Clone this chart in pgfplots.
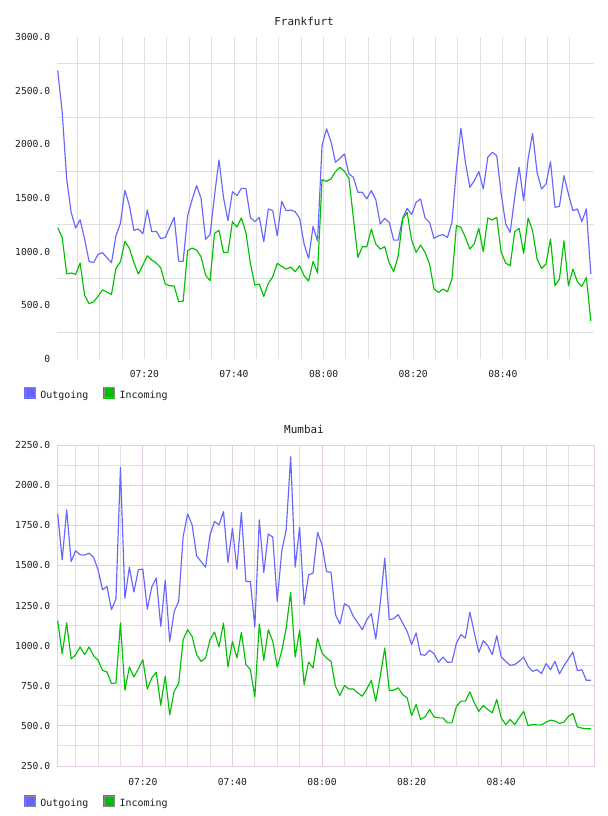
\documentclass[border=0pt]{standalone}
\usepackage{pgfplots}
\pgfplotsset{compat=1.18}
\usepackage{pgfplotstable}
\usepackage{fontspec}
\setmainfont{DejaVu Sans Mono}

\definecolor{outcol}{RGB}{102,102,255}
\definecolor{incol}{RGB}{0,192,0}
\definecolor{gridgray}{RGB}{224,224,224}
\definecolor{gridpink}{RGB}{228,206,228}
\definecolor{labelcol}{RGB}{30,30,30}
\definecolor{legendedge}{RGB}{140,140,140}

% one sample per minute, t = minutes since the first sample
\pgfplotstableread{
t out in
0 2688 1223
1 2299 1133
2 1677 794
3 1366 801
4 1220 788
5 1298 894
6 1118 595
7 910 515
8 897 533
9 975 583
10 990 645
11 944 623
12 897 602
13 1149 844
14 1264 906
15 1572 1096
16 1429 1031
17 1199 900
18 1211 791
19 1167 875
20 1388 962
21 1186 922
22 1189 894
23 1121 850
24 1133 698
25 1227 683
26 1320 680
27 910 533
28 910 539
29 1335 1009
30 1485 1034
31 1615 1015
32 1497 953
33 1115 782
34 1158 729
35 1522 1171
36 1855 1199
37 1506 993
38 1289 993
39 1559 1279
40 1522 1230
41 1590 1314
42 1590 1180
43 1320 894
44 1279 689
45 1320 698
46 1093 583
47 1398 704
48 1382 766
49 1149 891
50 1469 863
51 1382 838
52 1388 856
53 1373 813
54 1310 869
55 1071 776
56 937 726
57 1236 910
58 1099 801
59 1988 1671
60 2144 1656
61 2026 1677
62 1833 1746
63 1870 1786
64 1911 1749
65 1724 1684
66 1693 1314
67 1553 947
68 1553 1046
69 1491 1046
70 1569 1211
71 1485 1071
72 1258 1024
73 1310 1046
74 1273 894
75 1108 813
76 1108 962
77 1314 1304
78 1404 1366
79 1345 1108
80 1460 993
81 1491 1062
82 1314 993
83 1273 885
84 1124 651
85 1149 620
86 1158 651
87 1133 627
88 1273 745
89 1771 1242
90 2150 1227
91 1833 1133
92 1600 1024
93 1662 1077
94 1746 1217
95 1584 999
96 1879 1314
97 1926 1295
98 1895 1320
99 1537 993
100 1258 894
101 1180 869
102 1506 1186
103 1786 1217
104 1475 984
105 1864 1314
106 2103 1195
107 1740 931
108 1584 844
109 1631 885
110 1839 1118
111 1413 683
112 1423 745
113 1708 1102
114 1537 683
115 1382 838
116 1398 720
117 1279 676
118 1398 760
119 791 356
}\frankfurt

\pgfplotstableread{
t out in
0 1821 1155
1 1535 950
2 1846 1141
3 1524 917
4 1591 944
5 1566 992
6 1564 944
7 1576 992
8 1551 938
9 1473 909
10 1348 846
11 1369 836
12 1224 763
13 1290 768
14 2111 1141
15 1294 722
16 1489 867
17 1334 805
18 1473 855
19 1477 913
20 1228 730
21 1365 799
22 1421 834
23 1120 629
24 1406 809
25 1027 569
26 1213 716
27 1276 763
28 1680 1037
29 1821 1099
30 1752 1058
31 1560 944
32 1524 902
33 1489 923
34 1690 1037
35 1773 1085
36 1752 992
37 1835 1141
38 1518 867
39 1732 1027
40 1477 923
41 1831 1083
42 1400 882
43 1400 851
44 1116 681
45 1784 1135
46 1456 909
47 1696 1099
48 1676 1027
49 1276 867
50 1587 965
51 1721 1110
52 2177 1332
53 1489 929
54 1738 1095
55 1255 757
56 1441 898
57 1452 861
58 1705 1047
59 1628 954
60 1462 923
61 1456 902
62 1193 747
63 1135 689
64 1261 751
65 1244 730
66 1182 730
67 1141 705
68 1099 685
69 1162 730
70 1199 784
71 1041 654
72 1265 809
73 1545 985
74 1162 722
75 1168 722
76 1193 737
77 1141 695
78 1089 674
79 1006 564
80 1079 633
81 944 540
82 940 556
83 971 602
84 950 556
85 896 550
86 929 550
87 896 519
88 898 519
89 1016 622
90 1068 654
91 1047 654
92 1209 712
93 1079 643
94 958 591
95 1031 627
96 1000 602
97 944 581
98 1062 664
99 929 550
100 902 508
101 877 540
102 882 508
103 902 550
104 929 591
105 871 502
106 840 508
107 850 506
108 826 506
109 888 523
110 850 536
111 902 530
112 824 515
113 875 523
114 917 560
115 960 577
116 844 494
117 850 486
118 784 482
119 784 482
}\mumbai

\pgfplotsset{
  netchart/.style={
    scale only axis, width=537bp,
    xmin=-0.16, xmax=119.71,
    major tick length=0pt, minor tick length=0pt,
    tick style={draw=none},
    tick label style={font=\fontsize{9.7}{10}\selectfont, text=labelcol, inner sep=0pt},
    yticklabel style={anchor=east, xshift=-6.7bp},
    xticklabel style={anchor=base},
    every axis title/.style={at={(axis description cs:0.46,1)}, anchor=base,
      inner sep=0pt, font=\fontsize{11}{12}\selectfont, text=labelcol},
    legend columns=2,
    legend style={draw=none, fill=none, inner sep=0pt, outer sep=0pt,
      anchor=north west, font=\fontsize{10}{11}\selectfont, text=labelcol,
      nodes={inner sep=0pt},
      /tikz/every odd column/.append style={column sep=4.3bp},
      /tikz/every even column/.append style={column sep=14.8bp}},
    legend image code/.code={
      \fill[##1] (0bp,-3bp) rectangle (11bp,8bp);
      \draw[line width=1bp, draw=legendedge] (0.5bp,-2.5bp) rectangle (10.5bp,7.5bp);
    },
    every axis plot/.append style={line width=1.15bp, line join=round, mark=none},
  }
}

\begin{document}
\begin{tikzpicture}
\path[use as bounding box] (0bp,0bp) rectangle (608bp,-816bp);

\begin{axis}[netchart,
  at={(57bp,-37bp)}, anchor=north west, height=322bp,
  ymin=0, ymax=3000,
  ytick={0,500,1000,1500,2000,2500,3000},
  yticklabels={0,500.0,1000.0,1500.0,2000.0,2500.0,3000.0},
  minor ytick={250,750,1250,1750,2250,2750},
  xtick={19.35,39.35,59.35,79.35,99.35},
  xticklabels={07:20,07:40,08:00,08:20,08:40},
  minor xtick={4.35,9.35,14.35,24.35,29.35,34.35,44.35,49.35,54.35,64.35,69.35,74.35,84.35,89.35,94.35,104.35,109.35,114.35},
  xmajorgrids, xminorgrids, yminorgrids,
  major grid style={draw=gridgray, line width=1bp},
  minor grid style={draw=gridgray, line width=1bp},
  axis line style={draw=none},
  xticklabel style={yshift=-18bp},
  title={Frankfurt}, title style={yshift=12bp},
  legend style={at={(axis description cs:-0.0615,-0.086)}},
]
\addplot[outcol] table[x=t,y=out]{\frankfurt};
\addplot[incol] table[x=t,y=in]{\frankfurt};
\legend{Outgoing,Incoming}
\end{axis}

\begin{axis}[netchart,
  at={(57bp,-445bp)}, anchor=north west, height=321bp,
  ymin=250, ymax=2250,
  ytick={250,500,750,1000,1250,1500,1750,2000,2250},
  yticklabels={250.0,500.0,750.0,1000.0,1250.0,1500.0,1750.0,2000.0,2250.0},
  minor ytick={375,625,875,1125,1375,1625,1875,2125},
  xtick={19,39,59,79,99},
  xticklabels={07:20,07:40,08:00,08:20,08:40},
  minor xtick={4,9,14,24,29,34,44,49,54,64,69,74,84,89,94,104,109,114},
  grid=both,
  major grid style={draw=gridpink, line width=1bp},
  minor grid style={draw=gridgray, line width=1bp},
  axis line style={draw=gridpink, line width=1bp},
  xticklabel style={yshift=-19bp},
  title={Mumbai}, title style={yshift=11.7bp},
  legend style={at={(axis description cs:-0.0615,-0.0903)}},
]
\addplot[outcol] table[x=t,y=out]{\mumbai};
\addplot[incol] table[x=t,y=in]{\mumbai};
\legend{Outgoing,Incoming}
\end{axis}
\end{tikzpicture}
\end{document}
